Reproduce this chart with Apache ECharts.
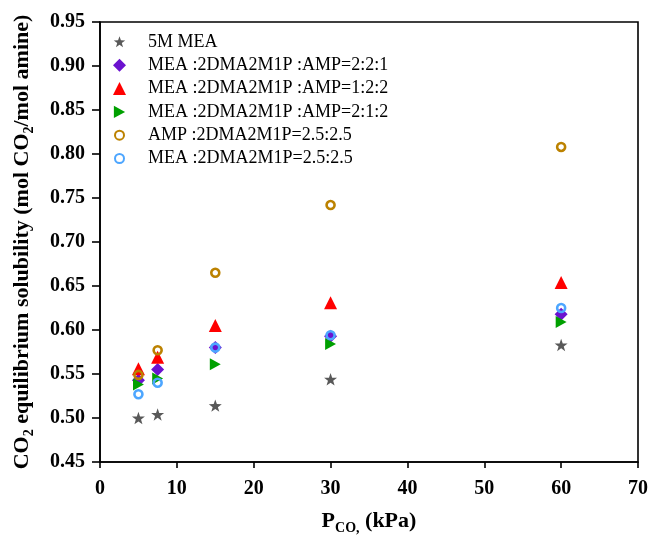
<!DOCTYPE html>
<html>
<head>
<meta charset="utf-8">
<script src="https://cdn.jsdelivr.net/npm/echarts@6/dist/echarts.min.js"></script>
<style>
  html, body { margin: 0; padding: 0; background: #fff; }
  #chart { width: 658px; height: 535px; }
</style>
</head>
<body>
<div id="chart"></div>
<script>
// CO2 partial pressure (kPa)
const pressures = [5, 7.5, 15, 30, 60];

// CO2 loading (mol CO2 / mol amine) per solvent
const mea5M      = [0.500, 0.504, 0.514, 0.544, 0.583];
const blend221   = [0.543, 0.555, 0.580, 0.593, 0.618];
const blend122   = [0.556, 0.569, 0.605, 0.631, 0.654];
const blend212   = [0.538, 0.545, 0.561, 0.584, 0.609];
const ampDma     = [0.549, 0.577, 0.665, 0.742, 0.808];
const meaDma     = [0.527, 0.540, 0.580, 0.594, 0.625];

const seriesNames = [
  '5M MEA',
  'MEA :2DMA2M1P :AMP=2:2:1',
  'MEA :2DMA2M1P :AMP=1:2:2',
  'MEA :2DMA2M1P :AMP=2:1:2',
  'AMP :2DMA2M1P=2.5:2.5',
  'MEA :2DMA2M1P=2.5:2.5'
];

const SERIF = '"Times New Roman", "Liberation Serif", serif';
const STAR_SHAPE = 'M10,0 L12.35,6.76 L19.51,6.91 L13.80,11.24 L15.88,18.09 L10,14 L4.12,18.09 L6.20,11.24 L0.49,6.91 L7.65,6.76 Z';
const TRI_SHAPE = 'M0,0 L10,5.5 L0,11 Z';
const STAR = 'path://' + STAR_SHAPE;
const RIGHT_TRI = 'path://' + TRI_SHAPE;
const RING_ICON = 'path://M0,0 M13,13 M11,6.5 A4.5,4.5 0 1 1 2,6.5 A4.5,4.5 0 1 1 11,6.5 Z';

// Legend icons: leading move-to points widen the icon box so the glyph sits smaller inside it
const LEGEND_ICONS = [
  'path://M-0.8,-1.3 M20.8,20.3 ' + STAR_SHAPE,
  'diamond',
  'triangle',
  'path://M-0.8,-0.3 M10.8,11.3 ' + TRI_SHAPE,
  RING_ICON,
  RING_ICON
];

function pairs(ys) {
  return pressures.map((x, i) => [x, ys[i]]);
}

function markerSeries(name, ys, symbol, size, style) {
  return {
    name: name,
    type: 'scatter',
    data: pairs(ys),
    symbol: symbol,
    symbolSize: size,
    symbolKeepAspect: true,
    itemStyle: Object.assign({ opacity: 1 }, style)
  };
}

const ring = c => ({ color: 'rgba(0,0,0,0)', borderColor: c, borderWidth: 2.6 });

const chart = echarts.init(document.getElementById('chart'));
chart.setOption({
  animation: false,
  backgroundColor: '#ffffff',
  grid: {
    left: 100, right: 20, top: 22, bottom: 73,
    outerBoundsMode: 'none',
    containLabel: false,
    show: true, borderColor: '#000', borderWidth: 1.6
  },
  legend: {
    orient: 'vertical',
    left: 107, top: 28,
    itemWidth: 13, itemHeight: 13, itemGap: 5.3,
    data: seriesNames.map((n, i) => ({ name: n, icon: LEGEND_ICONS[i] })),
    textStyle: { fontFamily: SERIF, fontSize: 18, color: '#000', lineHeight: 18, padding: [0, 0, 0, 17] }
  },
  xAxis: {
    type: 'value',
    min: 0, max: 70, interval: 10,
    axisLine: { show: true, lineStyle: { color: '#000', width: 1.6 } },
    axisTick: { show: true, length: 6, lineStyle: { color: '#000', width: 1.6 } },
    axisLabel: { margin: 17, color: '#000', fontFamily: SERIF, fontWeight: 'bold', fontSize: 20 },
    splitLine: { show: false },
    name: '{b|P}{s|CO,}{b| (kPa)}',
    nameLocation: 'middle',
    nameGap: 48,
    nameTextStyle: {
      rich: {
        b: { fontFamily: SERIF, fontWeight: 'bold', fontSize: 22, color: '#000', lineHeight: 25, verticalAlign: 'top' },
        s: { fontFamily: SERIF, fontWeight: 'bold', fontSize: 14, color: '#000', lineHeight: 14, padding: [12, 0, 0, 0] }
      }
    }
  },
  yAxis: {
    type: 'value',
    min: 0.45, max: 0.95, interval: 0.05,
    axisLine: { show: true, lineStyle: { color: '#000', width: 1.6 } },
    axisTick: { show: true, length: 8, lineStyle: { color: '#000', width: 1.6 } },
    axisLabel: {
      margin: 15, color: '#000', fontFamily: SERIF, fontWeight: 'bold', fontSize: 20,
      formatter: v => v.toFixed(2)
    },
    splitLine: { show: false },
    name: '{b|CO}{s|2}{b| equilibrium solubility (mol CO}{s|2}{b|/mol amine)}',
    nameLocation: 'middle',
    nameRotate: 90,
    nameGap: 64,
    nameTextStyle: {
      rich: {
        b: { fontFamily: SERIF, fontWeight: 'bold', fontSize: 22, color: '#000', lineHeight: 25, verticalAlign: 'top' },
        s: { fontFamily: SERIF, fontWeight: 'bold', fontSize: 14, color: '#000', lineHeight: 14, padding: [12, 0, 0, 0] }
      }
    }
  },
  series: [
    markerSeries(seriesNames[0], mea5M, STAR, 13, { color: '#595959' }),
    markerSeries(seriesNames[1], blend221, 'diamond', 13, { color: '#6B12CF' }),
    markerSeries(seriesNames[2], blend122, 'triangle', 13, { color: '#FF0000' }),
    markerSeries(seriesNames[3], blend212, RIGHT_TRI, 12, { color: '#00A000' }),
    markerSeries(seriesNames[4], ampDma, 'circle', 8, ring('#BC8200')),
    markerSeries(seriesNames[5], meaDma, 'circle', 8, ring('#4DA6FF'))
  ]
});
</script>
</body>
</html>
